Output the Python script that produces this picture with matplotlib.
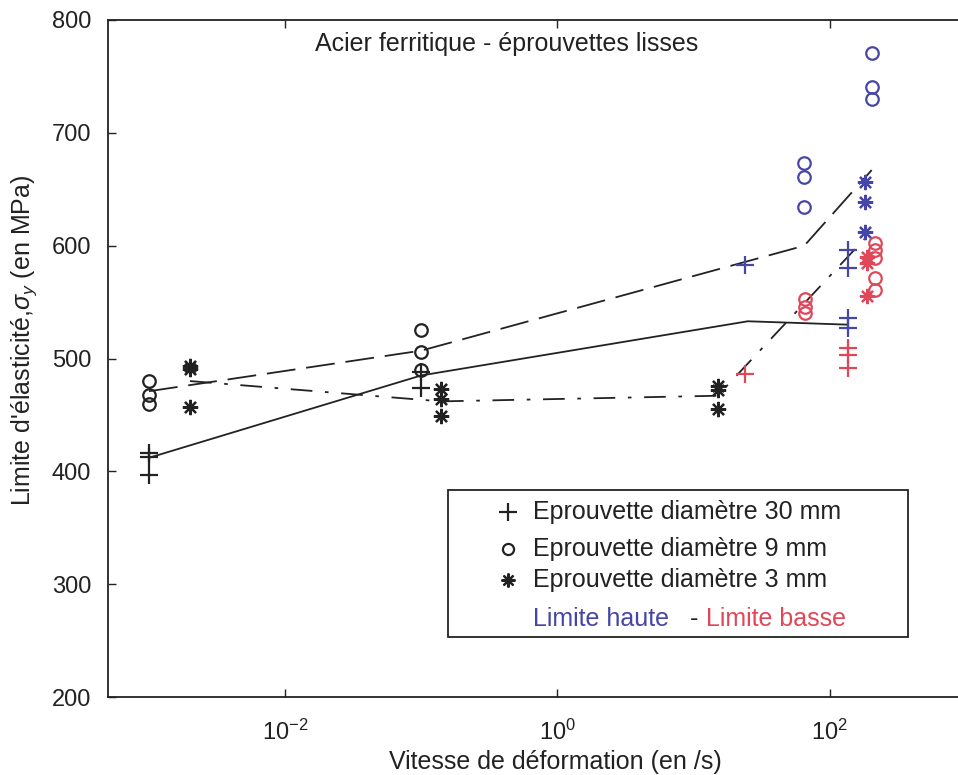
import matplotlib
matplotlib.use("Agg")
import matplotlib.pyplot as plt
from matplotlib.patches import Rectangle
from matplotlib.ticker import FixedLocator, NullLocator, LogFormatterSciNotation

plt.rcParams['font.family'] = ['Liberation Sans', 'DejaVu Sans']
plt.rcParams['mathtext.fontset'] = 'custom'
plt.rcParams['mathtext.rm'] = 'Liberation Sans'
plt.rcParams['mathtext.it'] = 'Liberation Sans:italic'

BLUE = '#4646a8'
RED = '#e0485a'
INK = '#222222'

# --- data (strain rate in 1/s, yield stress in MPa) ---
# 30 mm specimens (+)
d30_rate = [1e-3, 1e-3, 1e-3, 0.1, 0.1]
d30_sig = [416, 413, 397, 488, 474]
d30_hi_rate = [24, 135, 135, 135, 135]
d30_hi_sig = [583, 596, 580, 536, 527]
d30_lo_rate = [24, 135, 135, 135]
d30_lo_sig = [486, 509, 503, 492]

# 9 mm specimens (o)
d9_rate = [1e-3, 1e-3, 1e-3, 0.1, 0.1, 0.1]
d9_sig = [480, 468, 460, 525, 506, 490]
d9_hi_rate = [65, 65, 65, 203, 203, 203]
d9_hi_sig = [673, 661, 634, 771, 741, 730]
d9_lo_rate = [66, 66, 66, 214, 214, 214, 214, 214]
d9_lo_sig = [553, 546, 540, 602, 596, 589, 571, 561]

# 3 mm specimens (*)
d3_rate = [2e-3, 2e-3, 2e-3, 0.14, 0.14, 0.14, 15, 15, 15]
d3_sig = [493, 491, 457, 473, 464, 449, 476, 472, 455]
d3_hi_rate = [180, 180, 180]
d3_hi_sig = [656, 639, 612]
d3_lo_rate = [187, 187, 187]
d3_lo_sig = [590, 585, 555]

# trend lines (mean values)
fit30_rate = [1e-3, 0.1, 25, 135]
fit30_sig = [412, 485, 533, 530]
fit9_rate = [1e-3, 0.1, 65, 203]
fit9_sig = [471, 507, 600, 667]
fit3_rate = [2e-3, 0.14, 15, 180]
fit3_sig = [480, 462, 467, 606]

fig = plt.figure(figsize=(9.58, 7.75), dpi=100)
ax = fig.add_axes([108 / 958, 78 / 775, 858 / 958, 677 / 775])

# lines
ax.plot(fit30_rate, fit30_sig, '-', color=INK, lw=1.3)
ax.plot(fit9_rate, fit9_sig, color=INK, lw=1.3, dashes=(16, 6))
ax.plot(fit3_rate, fit3_sig, color=INK, lw=1.3, dashes=(12, 7, 2, 7))

# markers
star = (8, 2, 0)
mk = dict(ls='none', mew=1.6)
ax.plot(d30_rate, d30_sig, marker='+', ms=13, color=INK, **mk)
ax.plot(d30_hi_rate, d30_hi_sig, marker='+', ms=13, color=BLUE, **mk)
ax.plot(d30_lo_rate, d30_lo_sig, marker='+', ms=13, color=RED, **mk)
ax.plot(d9_rate, d9_sig, marker='o', ms=9, mfc='none', color=INK, **mk)
ax.plot(d9_hi_rate, d9_hi_sig, marker='o', ms=9, mfc='none', color=BLUE, **mk)
ax.plot(d9_lo_rate, d9_lo_sig, marker='o', ms=9, mfc='none', color=RED, **mk)
ax.plot(d3_rate, d3_sig, marker=star, ms=11, color=INK, **mk)
ax.plot(d3_hi_rate, d3_hi_sig, marker=star, ms=11, color=BLUE, **mk)
ax.plot(d3_lo_rate, d3_lo_sig, marker=star, ms=11, color=RED, **mk)

ax.set_xscale('log')
ax.set_xlim(5e-4, 1e3)
ax.set_ylim(200, 800)
ax.xaxis.set_major_locator(FixedLocator([1e-2, 1e0, 1e2]))
ax.xaxis.set_major_formatter(LogFormatterSciNotation())
ax.xaxis.set_minor_locator(NullLocator())
ax.set_yticks(range(200, 801, 100))
ax.tick_params(direction='in', length=6, width=1, top=True, right=True,
               labelsize=17, colors=INK)
ax.tick_params(axis='y', pad=12)
ax.tick_params(axis='x', pad=16)
for s in ax.spines.values():
    s.set_linewidth(1.3)
    s.set_color(INK)

ax.set_xlabel('Vitesse de déformation (en /s)', fontsize=18, color=INK)
ax.xaxis.set_label_coords(0.521, -0.078)
ax.set_ylabel(r"Limite d'élasticité,$\sigma_y$ (en MPa)", fontsize=18, color=INK)
ax.yaxis.set_label_coords(-0.08, 0.527)

ax.text(0.465, 0.964, 'Acier ferritique - éprouvettes lisses', transform=ax.transAxes,
        ha='center', va='center', fontsize=18, color=INK)

# legend drawn by hand
ax.add_patch(Rectangle((0.396, 0.0886), 0.536, 0.2174, transform=ax.transAxes,
                       fill=True, facecolor='white', edgecolor=INK, lw=1.3, zorder=5))
rows = [0.273, 0.2186, 0.1728]
labels = ['Eprouvette diamètre 30 mm', 'Eprouvette diamètre 9 mm', 'Eprouvette diamètre 3 mm']
markers = [('+', 13, 'full'), ('o', 8, 'none'), (star, 10, 'full')]
for yy, lab, (m, s, f) in zip(rows, labels, markers):
    ax.plot([0.466], [yy], marker=m, ms=s, mfc='none' if f == 'none' else None,
            color=INK, mew=1.6, transform=ax.transAxes, zorder=6, clip_on=False)
    ax.text(0.495, yy, lab, transform=ax.transAxes, va='center', fontsize=18,
            color=INK, zorder=6)
ax.text(0.495, 0.115, 'Limite haute', transform=ax.transAxes, va='center',
        fontsize=18, color=BLUE, zorder=6)
ax.text(0.683, 0.115, '-', transform=ax.transAxes, va='center', ha='center',
        fontsize=18, color=INK, zorder=6)
ax.text(0.697, 0.115, 'Limite basse', transform=ax.transAxes, va='center',
        fontsize=18, color=RED, zorder=6)

fig.savefig('out.png', dpi=100)
